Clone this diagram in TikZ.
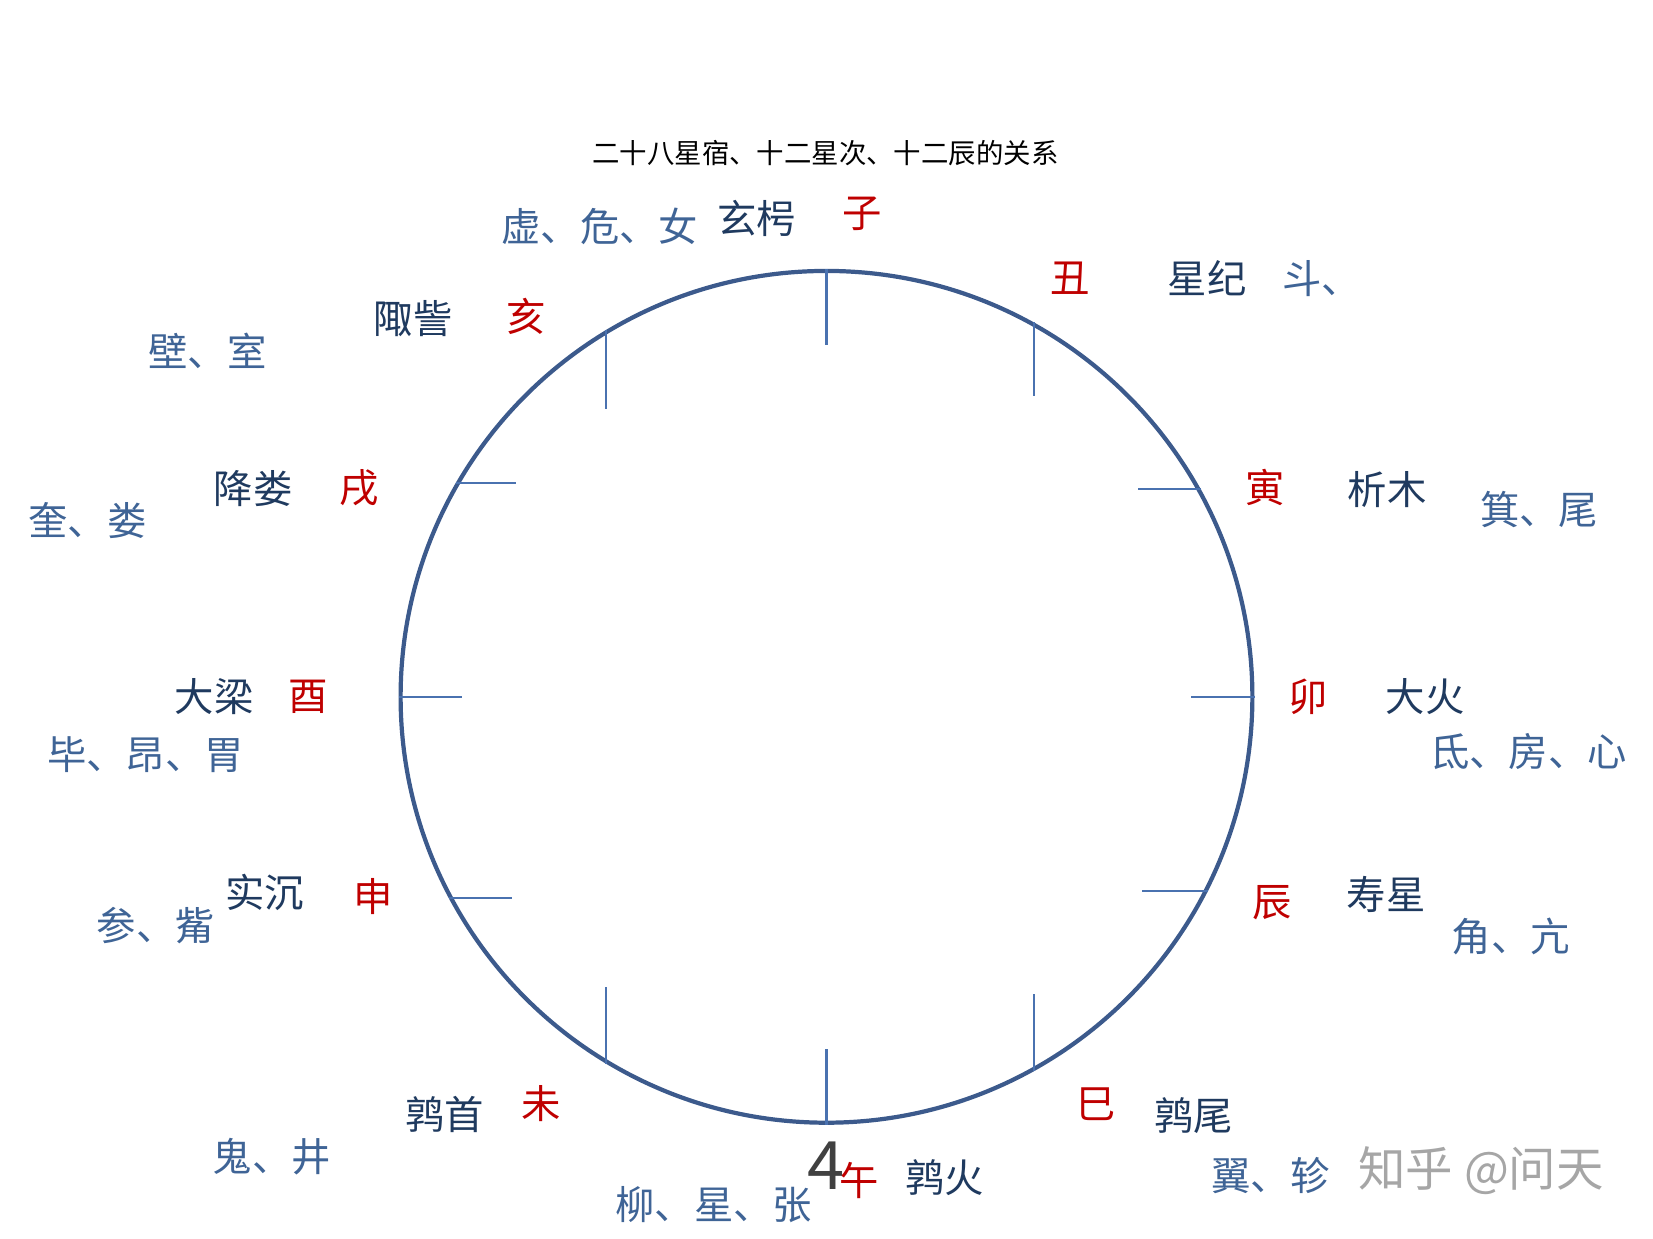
\documentclass[tikz,border=0pt]{standalone}
\usepackage{fontspec}
\setmainfont{Noto Sans CJK SC}
\definecolor{branchred}{HTML}{BF0000}
\definecolor{stationnavy}{HTML}{1F3A5F}
\definecolor{lodgeblue}{HTML}{3F6496}
\definecolor{ringblue}{HTML}{3C5A8C}
\definecolor{tickblue}{HTML}{4A72B0}
\tikzset{
  branch/.style={text=branchred},
  station/.style={text=stationnavy},
  lodge/.style={text=lodgeblue},
  tickline/.style={draw=tickblue,line width=0.6pt}
}
\begin{document}
\begin{tikzpicture}[x=0.10542mm,y=-0.10542mm]
  \useasboundingbox (0,0) rectangle (1568,1175);
  \node[circle,draw=ringblue,line width=1.2pt,minimum size=85.18mm,inner sep=0] (wheel) at (784,661) {};

  \node[font=\fontsize{7.8}{9}\selectfont] (title) at (783,145) {二十八星宿、十二星次、十二辰的关系};

  \begin{scope}[every node/.style={inner sep=0,font=\fontsize{11.2}{13}\selectfont}]
    % earthly branches
    \node[branch] (zi) at (818,203) {子};
    \node[branch] (chou) at (1015,264) {丑};
    \node[branch] (yin) at (1200,462) {寅};
    \node[branch] (mao) at (1241,661) {卯};
    \node[branch] (chen) at (1207,856) {辰};
    \node[branch] (si) at (1040,1047) {巳};
    \node[branch] (wu) at (815,1120) {午};
    \node[branch] (wei) at (513,1047) {未};
    \node[branch] (shen) at (354,850) {申};
    \node[branch] (you) at (292,661) {酉};
    \node[branch] (xu) at (341,463) {戌};
    \node[branch] (hai) at (499,300) {亥};

    % star stations
    \node[station] (xuanxiao) at (718,207) {玄枵};
    \node[station] (xingji) at (1145,264) {星纪};
    \node[station] (ximu) at (1316,464) {析木};
    \node[station] (dahuo) at (1352,661) {大火};
    \node[station] (shouxing) at (1315,848) {寿星};
    \node[station] (chunwei) at (1132,1058) {鹑尾};
    \node[station] (chunhuo) at (896,1117) {鹑火};
    \node[station] (chunshou) at (422,1057) {鹑首};
    \node[station] (shichen) at (251,847) {实沉};
    \node[station] (daliang) at (203,661) {大梁};
    \node[station] (jianglou) at (240,463) {降娄};
    \node[station] (juzi) at (392,302) {陬訾};

    % lodges
    \node[lodge] (xuwei) at (569,215) {虚、危、女};
    \node[lodge] (dou) at (1254,264) {斗、};
    \node[lodge] (jiwei) at (1460,483) {箕、尾};
    \node[lodge] (dixin) at (1450,713) {氐、房、心};
    \node[lodge] (jiaokang) at (1433,888) {角、亢};
    \node[lodge] (yizhen) at (1205,1115) {翼、轸};
    \node[lodge] (liuzhang) at (677,1143) {柳、星、张};
    \node[lodge] (guijing) at (258,1097) {鬼、井};
    \node[lodge] (shenzi) at (148,878) {参、觜};
    \node[lodge] (biang) at (138,716) {毕、昂、胃};
    \node[lodge] (kuilou) at (83,494) {奎、娄};
    \node[lodge] (bishi) at (197,333) {壁、室};
  \end{scope}

  \node[inner sep=0,text=black!75,font=\fontsize{19}{21}\selectfont] (four) at (784,1106) {4};
  \node[inner sep=0,text=black!35,font=\fontsize{13.5}{15}\selectfont] (mark) at (1405,1110) {知乎 @问天};

  \begin{scope}[tickline]
    \draw (wheel.90) -- ++(0,72);
    \draw (wheel.61) -- ++(0,70);
    \draw (wheel.29.3) -- ++(-60,0);
    \draw (wheel.0) -- ++(-60,0);
    \draw (wheel.-27.3) -- ++(-62,0);
    \draw (wheel.-61) -- ++(0,-73);
    \draw (wheel.-90) -- ++(0,-72);
    \draw (wheel.-121) -- ++(0,-73);
    \draw (wheel.-152.9) -- ++(60,0);
    \draw (wheel.180) -- ++(60,0);
    \draw (wheel.150.7) -- ++(57,0);
    \draw (wheel.121) -- ++(0,75);
  \end{scope}
\end{tikzpicture}
\end{document}
